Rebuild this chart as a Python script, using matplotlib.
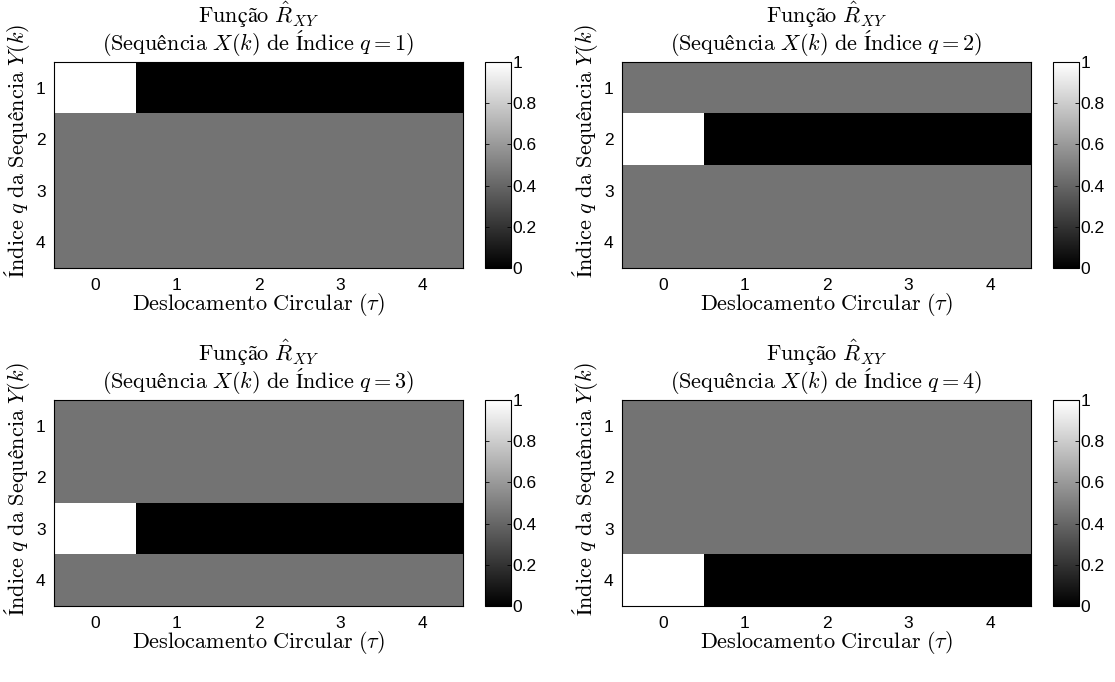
import numpy as np
import matplotlib
matplotlib.use("Agg")
import matplotlib.pyplot as plt

plt.rcParams['mathtext.fontset'] = 'cm'

# data: R_XY estimate for each reference sequence q (rows = index q of Y, cols = shift tau)
shifts = [0, 1, 2, 3, 4]
seq_idx = [1, 2, 3, 4]
peak_val = 1.0
off_val = 0.0
other_val = 0.45
q_list = [1, 2, 3, 4]

cb_ticks = [0, 0.2, 0.4, 0.6, 0.8, 1]
cb_labels = ["0", "0.2", "0.4", "0.6", "0.8", "1"]

sans = 'Liberation Sans'
tfs = 16     # text font size
kfs = 12.5   # tick font size

fig = plt.figure(figsize=(11.15, 6.82), dpi=100)
W, H = 1115.0, 682.0

# pixel boxes for image axes
lefts = [54, 622]
tops = [62, 400]
aw, ah = 409, 206
cbw = 26
cbgap = 22

for i, q in enumerate(q_list):
    row, col = divmod(i, 2)
    l, t = lefts[col], tops[row]
    ax = fig.add_axes([l / W, 1 - (t + ah) / H, aw / W, ah / H])

    R = np.full((len(seq_idx), len(shifts)), other_val)
    R[q - 1, :] = off_val
    R[q - 1, 0] = peak_val

    im = ax.imshow(R, cmap='gray', vmin=0, vmax=1, aspect='auto',
                   interpolation='nearest',
                   extent=[shifts[0] - 0.5, shifts[-1] + 0.5,
                           seq_idx[-1] + 0.5, seq_idx[0] - 0.5])
    ax.set_xticks(shifts)
    ax.set_yticks(seq_idx)
    ax.tick_params(axis='x', length=0, labelsize=kfs, pad=7)
    ax.tick_params(axis='y', length=0, labelsize=kfs, pad=6)
    for lab in ax.get_xticklabels() + ax.get_yticklabels():
        lab.set_fontfamily(sans)
    for s in ax.spines.values():
        s.set_linewidth(0.8)

    title = (r'$\mathrm{Função}\ \hat{R}_{XY}$' + '\n' +
             r'$\mathrm{(Sequência}\ X(k)\ \mathrm{de}\ \mathrm{Índice}\ q=%d\mathrm{)}$' % q)
    ax.set_title(title, fontsize=tfs, linespacing=0.9, pad=9)
    ax.set_xlabel(r'$\mathrm{Deslocamento}\ \mathrm{Circular}\ (\tau)$', fontsize=tfs,
                  labelpad=-1)
    ax.set_ylabel(r'$\mathrm{Índice}\ q\ \mathrm{da}\ \mathrm{Sequência}\ Y(k)$',
                  fontsize=tfs)
    ax.yaxis.set_label_coords(-0.053, 0.57)

    cax = fig.add_axes([(l + aw + cbgap) / W, 1 - (t + ah) / H, cbw / W, ah / H])
    cb = fig.colorbar(im, cax=cax)
    cb.set_ticks(cb_ticks)
    cb.set_ticklabels(cb_labels)
    cax.tick_params(direction='in', length=3, width=0.6, labelsize=kfs,
                    right=True, left=True, pad=1)
    for lab in cax.get_yticklabels():
        lab.set_fontfamily(sans)
    cb.outline.set_linewidth(0.8)

fig.savefig('out.png', dpi=100)
